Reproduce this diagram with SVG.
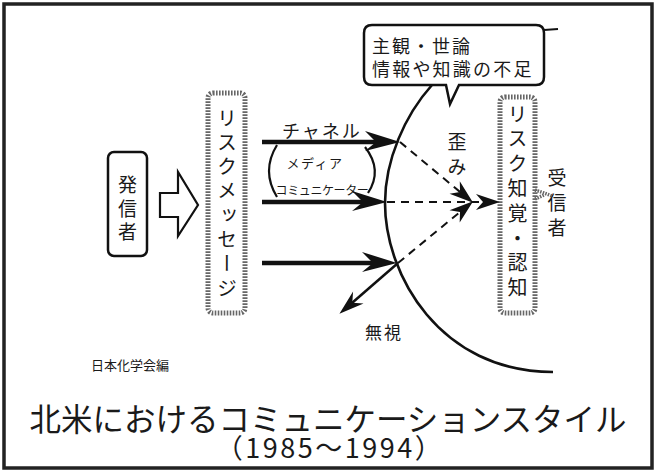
<svg xmlns="http://www.w3.org/2000/svg" width="656" height="472" viewBox="0 0 656 472">
<defs>
<style>
.t{font-family:"Noto Sans CJK JP","Noto Sans",sans-serif;fill:#1a1a1a}
.v{writing-mode:vertical-rl}
.hatch{fill:none;stroke:#666;stroke-width:5;stroke-dasharray:1.6 1.4}
.solid{fill:none;stroke:#111;stroke-linecap:butt}
.dash{fill:none;stroke:#111;stroke-width:2;stroke-dasharray:8 6}
</style>
<marker id="big" markerUnits="userSpaceOnUse" markerWidth="60" markerHeight="30" viewBox="-40 -15 60 30" refX="-18" refY="0" orient="auto">
<path d="M0,0 L-35,-11 L-24,0 L-35,9 Z" fill="#111"/>
</marker>
<marker id="mid" markerUnits="userSpaceOnUse" markerWidth="50" markerHeight="24" viewBox="-30 -12 50 24" refX="-12" refY="0" orient="auto">
<path d="M0,0 L-25,-8 L-17,0 L-25,8 Z" fill="#111"/>
</marker>
<marker id="thin" markerUnits="userSpaceOnUse" markerWidth="50" markerHeight="24" viewBox="-30 -12 50 24" refX="-6" refY="0" orient="auto">
<path d="M0,0 L-24,-8 L-17,0 L-24,8 Z" fill="#111"/>
</marker>
</defs>
<rect width="656" height="472" fill="#fff"/>
<rect x="4" y="4" width="648" height="464" fill="none" stroke="#222" stroke-width="3.5"/>

<g id="callout">
<path d="M372,25 H536 Q544,25 544,33 V77 Q544,85 536,85 H459 L450,104 L446,85 H372 Q364,85 364,77 V33 Q364,25 372,25 Z" fill="#fff" stroke="#111" stroke-width="2.5"/>
<line x1="544" y1="30" x2="558" y2="29" stroke="#111" stroke-width="2"/>
<text class="t" font-size="18" dominant-baseline="central"><tspan x="372" y="45" letter-spacing="2">主観・世論</tspan><tspan x="372" y="68" letter-spacing="2.2">情報や知識の不足</tspan></text>
</g>

<g id="sender">
<rect x="108" y="152" width="39" height="104" rx="6" fill="#fff" stroke="#111" stroke-width="2.5"/>
<text class="t v" x="127.5" y="175.5" font-size="19" letter-spacing="4.5">発信者</text>
</g>

<g id="hollow-arrow">
<path d="M160,193 H178 V172 L198,205 L178,236 V217 H160 Z" fill="#fff" stroke="#111" stroke-width="2.2" stroke-linejoin="miter"/>
</g>

<g id="risk-message">
<rect x="208" y="93" width="37" height="220" rx="5" class="hatch"/>
<text class="t v" x="227" y="108" font-size="20" letter-spacing="4.3">リスクメッセージ</text>
</g>

<g id="risk-perception">
<rect x="500" y="97" width="35" height="216" rx="5" class="hatch"/>
<text class="t v" x="517.5" y="104" font-size="20" letter-spacing="4.8">リスク知覚・認知</text>
<path d="M535,190 L544,193 L552,196 M535,199 L544,195" fill="none" stroke="#666" stroke-width="3.5" stroke-dasharray="1.5 1.2"/>
</g>

<g id="receiver">
<text class="t v" x="557" y="168.5" font-size="19" letter-spacing="6">受信者</text>
</g>

<g id="labels">
<text class="t" x="282" y="130" font-size="18" letter-spacing="2" dominant-baseline="central">チャネル</text>
<text class="t" x="315" y="162" font-size="13" text-anchor="middle" letter-spacing="1.5" dominant-baseline="central">メディア</text>
<text class="t" x="322" y="189" font-size="12" text-anchor="middle" letter-spacing="-0.4" dominant-baseline="central">コミュニケーター</text>
<text class="t v" x="457" y="132.5" font-size="19" letter-spacing="6">歪み</text>
<text class="t" x="384" y="331" font-size="17" text-anchor="middle" letter-spacing="2" dominant-baseline="central">無視</text>
<text class="t" x="130" y="364" font-size="13" text-anchor="middle" dominant-baseline="central">日本化学会編</text>
<text class="t" text-anchor="middle" dominant-baseline="central"><tspan x="328" y="417" font-size="31.5">北米におけるコミュニケーションスタイル</tspan><tspan x="330" y="446" font-size="27" letter-spacing="2.5">（1985〜1994）</tspan></text>
</g>

<g id="connectors">
<path class="solid" d="M432,85 C405,115 385,160 385,203 C385,275 440,372 553,372" stroke-width="2.6"/>
<path class="solid" d="M277,145 Q261,171 277,197" stroke-width="2.2"/>
<path class="solid" d="M365,147 Q383,170 368,193" stroke-width="2.2"/>
<line class="solid" x1="262" y1="142" x2="382" y2="142" stroke-width="4.5" marker-end="url(#big)"/>
<line class="solid" x1="262" y1="202" x2="369" y2="202" stroke-width="4.5" marker-end="url(#big)"/>
<line class="solid" x1="262" y1="263" x2="379" y2="263" stroke-width="4.5" marker-end="url(#big)"/>
<line class="solid" x1="398" y1="263" x2="348.5" y2="306" stroke-width="2.5" marker-end="url(#mid)"/>
<line class="dash" x1="400" y1="142" x2="468.5" y2="199" marker-end="url(#thin)"/>
<line class="dash" x1="398" y1="263" x2="468.5" y2="205" marker-end="url(#thin)"/>
<line class="dash" x1="387" y1="202" x2="494" y2="202" marker-end="url(#thin)"/>
</g>
</svg>
